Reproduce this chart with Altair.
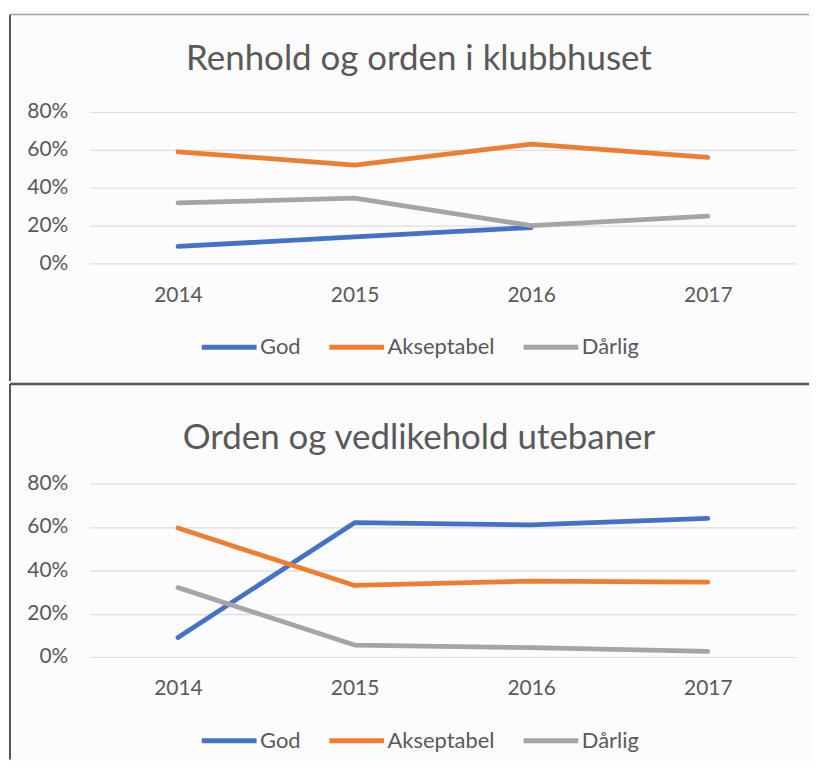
import altair as alt
import pandas as pd

# ---------------- data ----------------
years = ["2014", "2015", "2016", "2017"]
series = ["God", "Akseptabel", "Dårlig"]
colors = ["#4472C4", "#ED7D31", "#A5A5A5"]

title_top = "Renhold og orden i klubbhuset"
god_top = [0.09, 0.14, 0.19, None]
aks_top = [0.59, 0.52, 0.63, 0.56]
dar_top = [0.32, 0.345, 0.20, 0.25]

title_bot = "Orden og vedlikehold utebaner"
god_bot = [0.09, 0.62, 0.61, 0.64]
aks_bot = [0.595, 0.33, 0.35, 0.345]
dar_bot = [0.32, 0.055, 0.043, 0.026]

y_ticks = [0, 0.2, 0.4, 0.6, 0.8]

FONT = "Lato"
TXT = "#595959"
PW = 709


def long_table(god, aks, dar):
    rows = []
    for name, vals in zip(series, [god, aks, dar]):
        for yr, v in zip(years, vals):
            rows.append({"year": yr, "series": name, "value": v})
    return pd.DataFrame(rows)


one = pd.DataFrame({"k": [0]})


def panel(df, title, height, frame_top, frame_bottom, legend_y, title_offset, top_color, top_width):
    lines = alt.Chart(df).mark_line(strokeWidth=4.8, strokeCap="round", strokeJoin="round").encode(
        x=alt.X("year:O", scale=alt.Scale(type="point", padding=0.5), sort=years,
                axis=alt.Axis(title=None, labelAngle=0, domain=False, ticks=False,
                              labelPadding=21, labelFontSize=21, labelFont=FONT,
                              labelColor=TXT, grid=False)),
        y=alt.Y("value:Q", scale=alt.Scale(domain=[0, 0.8], nice=False),
                axis=alt.Axis(title=None, values=y_ticks, format=".0%", domain=False,
                              ticks=False, labelPadding=22, labelFontSize=21,
                              labelFont=FONT, labelColor=TXT, grid=True,
                              gridColor="#dedede", gridWidth=1.2)),
        color=alt.Color("series:N", sort=series,
                        scale=alt.Scale(domain=series, range=colors),
                        legend=alt.Legend(title=None, orient="none", direction="horizontal",
                                          legendX=110, legendY=legend_y,
                                          symbolType="stroke", symbolSize=3025,
                                          symbolStrokeWidth=5, labelFontSize=22,
                                          labelFont=FONT, labelColor=TXT,
                                          labelOffset=1, columnPadding=18)),
        detail="series:N",
    )
    left = alt.Chart(one).mark_rule(color="#555555", strokeWidth=2).encode(
        x=alt.value(-80), y=alt.value(frame_top), y2=alt.value(frame_bottom))
    top = alt.Chart(one).mark_rule(color=top_color, strokeWidth=top_width).encode(
        x=alt.value(-80), x2=alt.value(722), y=alt.value(frame_top))
    return alt.layer(left, top, lines).properties(
        width=PW, height=height,
        title=alt.TitleParams(title, fontSize=35, font=FONT, color=TXT, fontWeight="normal",
                              anchor="middle", baseline="alphabetic", offset=title_offset, dx=-24),
    )


top_panel = panel(long_table(god_top, aks_top, dar_top), title_top, 152,
                  frame_top=-98, frame_bottom=270, legend_y=206, title_offset=-91.75,
                  top_color="#a0a0a0", top_width=1.5)
bot_panel = panel(long_table(god_bot, aks_bot, dar_bot), title_bot, 174,
                  frame_top=-100, frame_bottom=277, legend_y=228, title_offset=-101,
                  top_color="#555555", top_width=2.5)

chart = alt.vconcat(top_panel, bot_panel, spacing=0).resolve_legend(
    color="independent"
).properties(
    padding={"left": 0, "top": 4, "right": 0, "bottom": 0},
    background="#fcfbfd",
).configure_view(stroke=None)

chart.save("out.html", embed_options={"renderer": "svg", "actions": False})
